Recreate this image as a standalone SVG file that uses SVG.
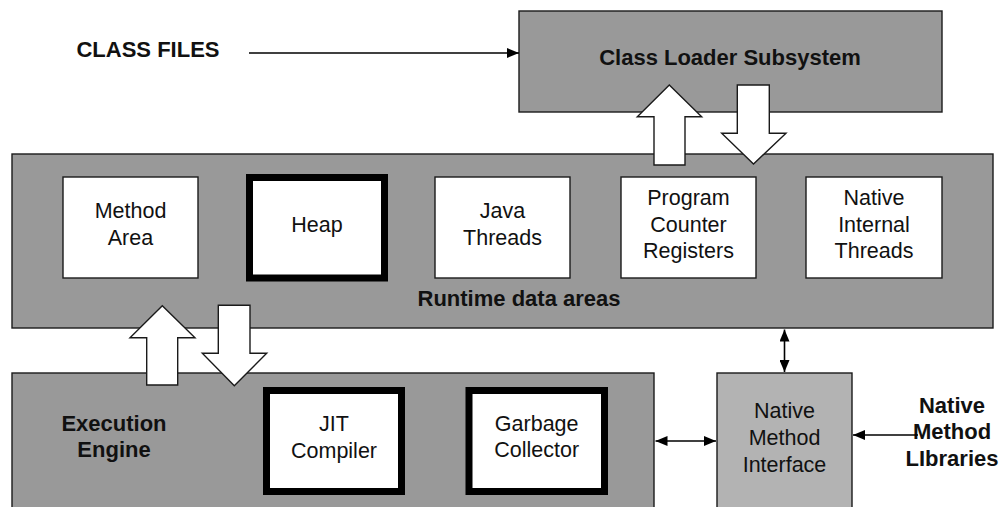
<svg xmlns="http://www.w3.org/2000/svg" width="1004" height="507" viewBox="0 0 1004 507">
  <style>
    .panel { fill: #999999; stroke: #1a1a1a; stroke-width: 1.4; }
    .light { fill: #b3b3b3; stroke: #1a1a1a; stroke-width: 1.4; }
    .cell { fill: #ffffff; stroke: #1a1a1a; stroke-width: 1.4; }
    .thick { fill: #ffffff; stroke: #000000; stroke-width: 7; }
    .block { fill: #ffffff; stroke: #1a1a1a; stroke-width: 1.4; stroke-linejoin: miter; }
    .wire { fill: none; stroke: #000000; stroke-width: 1.6; }
    text { font-family: "Liberation Sans", Arial, sans-serif; font-size: 21.5px; fill: #111111; text-anchor: middle; }
    .bold { font-weight: bold; font-size: 22px; }
  </style>
  <defs>
    <marker id="head" viewBox="0 0 12 10" refX="12" refY="5" markerWidth="12" markerHeight="10" markerUnits="userSpaceOnUse" orient="auto-start-reverse">
      <path d="M0,0 L12,5 L0,10 Z" fill="#000000"/>
    </marker>
  </defs>

  <rect width="1004" height="507" fill="#ffffff"/>

  <!-- input label -->
  <g id="class-files">
    <text class="bold" x="148" y="57">CLASS FILES</text>
  </g>

  <g id="class-loader">
    <rect class="panel" x="519" y="11" width="423" height="101"/>
    <text class="bold" x="730" y="65">Class Loader Subsystem</text>
  </g>

  <g id="runtime-data-areas">
    <rect class="panel" x="12" y="154" width="981" height="174"/>
    <text class="bold" x="519" y="306">Runtime data areas</text>
  </g>

  <g id="method-area">
    <rect class="cell" x="63" y="177" width="135" height="101"/>
    <text x="130.5" y="218">Method</text>
    <text x="130.5" y="245">Area</text>
  </g>

  <g id="heap">
    <rect class="thick" x="249.5" y="177.5" width="135" height="100.5"/>
    <text x="317" y="232">Heap</text>
  </g>

  <g id="java-threads">
    <rect class="cell" x="435" y="177" width="135" height="101"/>
    <text x="502.5" y="218">Java</text>
    <text x="502.5" y="245">Threads</text>
  </g>

  <g id="pc-registers">
    <rect class="cell" x="621" y="177" width="135" height="101"/>
    <text x="688.5" y="205">Program</text>
    <text x="688.5" y="232">Counter</text>
    <text x="688.5" y="258">Registers</text>
  </g>

  <g id="native-internal-threads">
    <rect class="cell" x="806" y="177" width="136" height="101"/>
    <text x="874" y="205">Native</text>
    <text x="874" y="232">Internal</text>
    <text x="874" y="258">Threads</text>
  </g>

  <g id="execution-engine">
    <rect class="panel" x="12" y="373" width="642" height="150"/>
    <text class="bold" x="114" y="431">Execution</text>
    <text class="bold" x="114" y="457">Engine</text>
  </g>

  <g id="jit-compiler">
    <rect class="thick" x="266.5" y="390.5" width="135" height="101"/>
    <text x="334" y="431">JIT</text>
    <text x="334" y="458">Compiler</text>
  </g>

  <g id="garbage-collector">
    <rect class="thick" x="469" y="390.5" width="135.5" height="101"/>
    <text x="536.7" y="431">Garbage</text>
    <text x="536.7" y="457">Collector</text>
  </g>

  <g id="native-method-interface">
    <rect class="light" x="717" y="373" width="135" height="150"/>
    <text x="784.5" y="418">Native</text>
    <text x="784.5" y="445">Method</text>
    <text x="784.5" y="472">Interface</text>
  </g>

  <g id="native-method-libraries">
    <text class="bold" x="952" y="413">Native</text>
    <text class="bold" x="952" y="439">Method</text>
    <text class="bold" x="952" y="466">LIbraries</text>
  </g>

  <g id="connectors">
    <!-- class files into loader -->
    <line class="wire" x1="249" y1="53" x2="519" y2="53" marker-end="url(#head)"/>

    <!-- loader <-> runtime block arrows -->
    <path class="block" d="M654,165 L654,116.7 L637.3,116.7 L669.3,85 L701.7,116.7 L685,116.7 L685,165 Z"/>
    <path class="block" d="M737.3,85 L769.3,85 L769.3,133.3 L786,133.3 L753.5,164 L721.7,133.3 L737.3,133.3 Z"/>

    <!-- runtime <-> execution engine block arrows -->
    <path class="block" d="M146.7,385 L146.7,337.7 L130,337.7 L162.3,305.7 L195,337.7 L177.7,337.7 L177.7,385 Z"/>
    <path class="block" d="M218.3,305.3 L250,305.3 L250,353.3 L266.7,353.3 L234.3,385.7 L202.3,353.3 L218.3,353.3 Z"/>

    <!-- runtime <-> native interface -->
    <line class="wire" x1="784.5" y1="329.5" x2="784.5" y2="372" marker-start="url(#head)" marker-end="url(#head)"/>

    <!-- execution engine <-> native interface -->
    <line class="wire" x1="655.5" y1="441" x2="716" y2="441" marker-start="url(#head)" marker-end="url(#head)"/>

    <!-- libraries into native interface -->
    <line class="wire" x1="918" y1="435" x2="853" y2="435" marker-end="url(#head)"/>
  </g>
</svg>
